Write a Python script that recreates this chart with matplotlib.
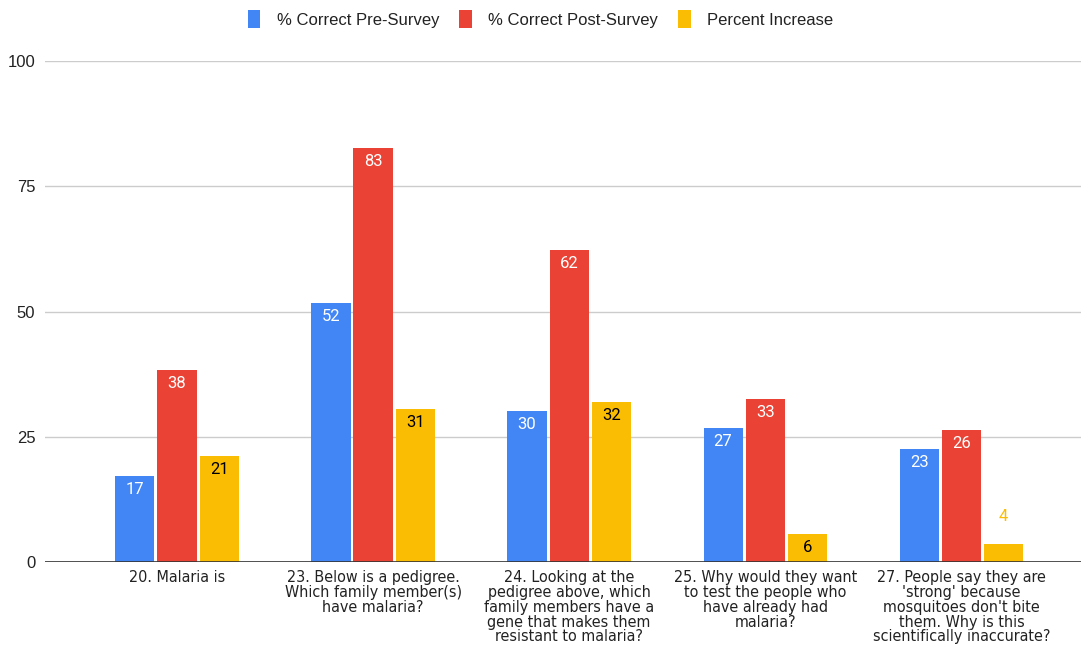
import matplotlib

matplotlib.use("Agg")
import matplotlib.pyplot as plt
import numpy as np

questions = [
    "20. Malaria is",
    "23. Below is a pedigree.\nWhich family member(s)\nhave malaria?",
    "24. Looking at the\npedigree above, which\nfamily members have a\ngene that makes them\nresistant to malaria?",
    "25. Why would they want\nto test the people who\nhave already had\nmalaria?",
    "27. People say they are\n'strong' because\nmosquitoes don't bite\nthem. Why is this\nscientifically inaccurate?",
]
pre_survey = [17.2, 51.7, 30.1, 26.7, 22.6]
post_survey = [38.3, 82.6, 62.3, 32.6, 26.3]
pct_increase = [21.2, 30.6, 31.9, 5.6, 3.6]

series = [
    ("% Correct Pre-Survey", pre_survey, "#4285F4", "white"),
    ("% Correct Post-Survey", post_survey, "#EA4335", "white"),
    ("Percent Increase", pct_increase, "#FBBC04", "black"),
]

plt.rcParams["font.family"] = ["Liberation Sans", "DejaVu Sans"]

fig = plt.figure(figsize=(10.81, 6.54), dpi=100)
ax = fig.add_axes([45 / 1081, 92 / 654, 1 - 45 / 1081, 501 / 654])

x = np.arange(len(questions))
width = 0.2
step = 0.215
for i, (name, vals, color, txt) in enumerate(series):
    pos = x + (i - 1) * step
    ax.bar(pos, vals, width=width, color=color, label=name, zorder=3)
    for p, v in zip(pos, vals):
        lbl = f"{int(v + 0.5)}"
        if v < 5:
            # too short to hold its label, so it goes above in the bar colour
            ax.text(p, v + 5.4, lbl, ha="center", va="center",
                    color=color, fontsize=12, family=["Roboto", "DejaVu Sans"])
        else:
            ax.text(p, v - 2.7, lbl, ha="center", va="center",
                    color=txt, fontsize=12, family=["Roboto", "DejaVu Sans"])

ax.set_xlim(-0.673, 4.61)
ax.set_ylim(0, 100)
ax.set_yticks([0, 25, 50, 75, 100])
ax.grid(axis="y", color="#cccccc", linewidth=1, zorder=0)
ax.axhline(0, color="#333333", linewidth=1.2, zorder=4)
for s in ax.spines.values():
    s.set_visible(False)
ax.tick_params(axis="y", length=0, pad=7, labelsize=12, labelcolor="#222222")
ax.tick_params(axis="x", length=0, pad=6)
ax.set_xticks(x)
ax.set_xticklabels(questions, fontsize=11.5, linespacing=0.98, color="#222222",
                   family=["DejaVu Sans"], fontstretch="condensed")

fig.legend(loc="upper center", bbox_to_anchor=(0.5, 1.0), ncol=3, frameon=False,
           fontsize=12, handlelength=0.75, handleheight=1.3, handletextpad=1.0,
           columnspacing=1.2, labelcolor="#222222", borderaxespad=0.2)

fig.savefig("out.png", dpi=100, facecolor="white")
